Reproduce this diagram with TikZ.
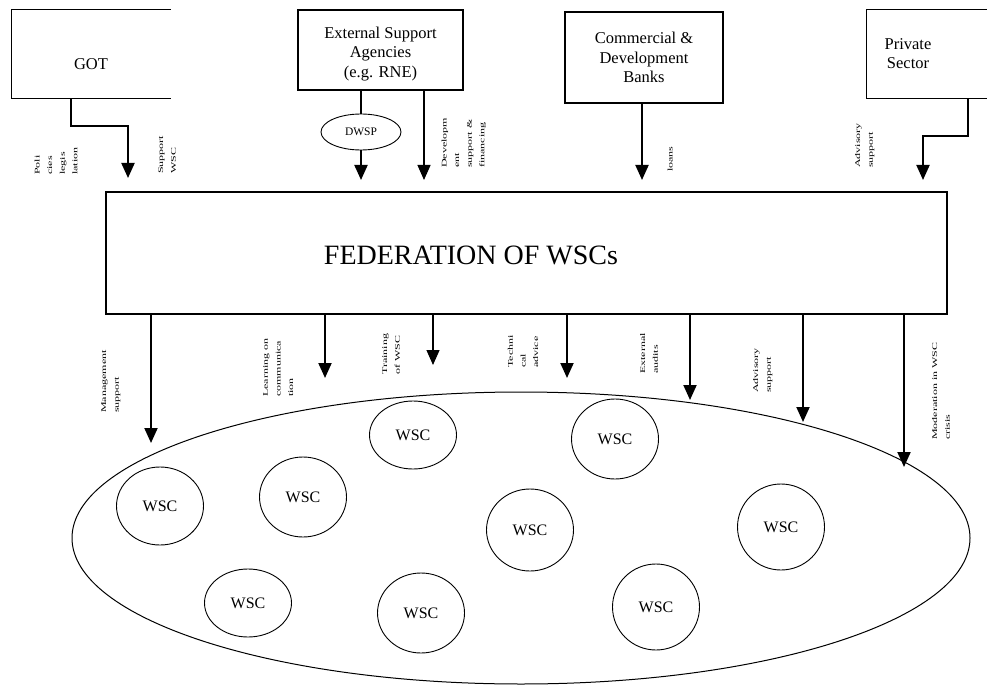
\documentclass[tikz,border=0pt]{standalone}
\usepackage{graphicx}
\usepackage{fontspec}
\setmainfont{Liberation Serif}
\usetikzlibrary{arrows.meta,shapes.geometric}
% condensed multi-line label, set upright then turned by the node
\newcommand{\sqlbl}[1]{\scalebox{1}[0.6]{\fontsize{12}{21}\selectfont\begin{tabular}{@{}l@{}}#1\end{tabular}}}
\begin{document}
\begin{tikzpicture}[x=1pt,y=-1pt,
  actor/.style={draw, line width=1.1pt, inner sep=0pt, align=center,
    font=\fontsize{16.5}{19.5}\selectfont},
  openactor/.style={actor, draw=none},
  wsc/.style={ellipse, draw, line width=0.9pt, inner sep=0pt,
    minimum width=87pt, minimum height=80pt, font=\fontsize{16}{18}\selectfont},
  conn/.style={line width=2pt, -{Triangle[width=13pt,length=15pt]}},
  thinconn/.style={conn, line width=1.3pt},
  lbl/.style={rotate=90, anchor=west, inner sep=0pt}]

\useasboundingbox (0,0) rectangle (987,687);

% --- outside actors ---
\node[openactor, minimum width=158pt, minimum height=88pt] (got) at (91,54) {};
\draw[line width=1.1pt] (got.north east) -- (got.north west) -- (got.south west) -- (got.south east);
\node[font=\fontsize{16.5}{19}\selectfont] (gottext) at (91,64) {GOT};

\node[actor, minimum width=165pt, minimum height=80pt] (esa) at (380.5,50) {};
\node[align=center, font=\fontsize{16.5}{19.5}\selectfont] (esatext) at (380.5,54)
  {External Support\\Agencies\\(e.g. RNE)};
\node[ellipse, draw, line width=0.9pt, inner sep=0pt, minimum width=80pt,
  minimum height=36pt, font=\fontsize{11.5}{13}\selectfont] (dwsp) at (361,132) {DWSP};

\node[actor, minimum width=158pt, minimum height=91pt] (bank) at (644,57.5)
  {Commercial \&\\Development\\Banks};

\node[openactor, minimum width=120pt, minimum height=88pt] (priv) at (927,54) {};
\draw[line width=1.1pt] (priv.north east) -- (priv.north west) -- (priv.south west) -- (priv.south east);
\node[align=center, font=\fontsize{16.5}{19}\selectfont] (privtext) at (908,54) {Private\\Sector};

% --- federation ---
\node[draw, line width=1.1pt, minimum width=841pt, minimum height=122pt] (fed) at (526.5,253) {};
\node[font=\fontsize{28}{32}\selectfont] (fedtext) at (471,255) {FEDERATION OF WSCs};

% --- arrow tips above the federation ---
\coordinate (tGot)  at (128,178);
\coordinate (tDw)   at (361,180);
\coordinate (tEsa)  at (424,180);
\coordinate (tBank) at (642,180);
\coordinate (tPriv) at (923,180);

\draw[conn] ([xshift=60pt]got.south west) -- ++(0,27) -| (tGot);
\draw[line width=2pt] (dwsp.north |- esa.south) -- (dwsp.north);
\draw[conn] (dwsp.south) -- (tDw);
\draw[thinconn] (tEsa |- esa.south) -- (tEsa);
\draw[conn] (tBank |- bank.south) -- (tBank);
\draw[conn] ([xshift=-20pt]priv.south east) -- ++(0,37) -| (tPriv);

\node[lbl] (lPol)  at (56,175)  {\sqlbl{Poli\\cies\\legis\\lation}};
\node[lbl] (lSup)  at (167,174) {\sqlbl{Support\\WSC}};
\node[lbl] (lDev)  at (463,168) {\sqlbl{Developm\\ent\\support \&\\financing}};
\node[lbl] (lLoan) at (670,172) {\sqlbl{loans}};
\node[lbl] (lAdv1) at (864,168) {\sqlbl{Advisory\\support}};

% --- the WSC pool ---
\node[ellipse, draw, line width=1pt, inner sep=0pt, minimum width=898pt,
  minimum height=292pt] (pool) at (521,538) {};

\node[wsc, minimum height=78pt] (w1) at (160,506) {WSC};
\node[wsc, minimum height=80pt] (w2) at (303,497) {WSC};
\node[wsc, minimum height=68pt] (w3) at (413,435) {WSC};
\node[wsc, minimum height=80pt] (w4) at (615,439) {WSC};
\node[wsc, minimum height=82pt] (w5) at (530,530) {WSC};
\node[wsc, minimum height=86pt] (w6) at (781,527) {WSC};
\node[wsc, minimum height=68pt] (w7) at (248,603) {WSC};
\node[wsc, minimum height=80pt] (w8) at (421,613) {WSC};
\node[wsc, minimum height=86pt] (w9) at (656,607) {WSC};

% --- support flowing down to the WSCs ---
\coordinate (tMan)  at (151,443);
\coordinate (tLrn)  at (325,378);
\coordinate (tTrn)  at (433,365);
\coordinate (tTec)  at (567,378);
\coordinate (tAud)  at (690,400);
\coordinate (tAdv)  at (803,422);
\coordinate (tMod)  at (904,467);

\draw[conn] (tMan |- fed.south) -- (tMan);
\draw[conn] (tLrn |- fed.south) -- (tLrn);
\draw[thinconn] (tTrn |- fed.south) -- (tTrn);
\draw[conn] (tTec |- fed.south) -- (tTec);
\draw[conn] (tAud |- fed.south) -- (tAud);
\draw[conn] (tAdv |- fed.south) -- (tAdv);
\draw[conn] (tMod |- fed.south) -- (tMod);

\node[lbl] (lMan) at (110,413) {\sqlbl{Management\\support}};
\node[lbl] (lLrn) at (278,397) {\sqlbl{Learning on\\communica\\tion}};
\node[lbl] (lTrn) at (391,375) {\sqlbl{Training\\of WSC}};
\node[lbl] (lTec) at (523,368) {\sqlbl{Techni\\cal\\advice}};
\node[lbl] (lAud) at (649,374) {\sqlbl{External\\audits}};
\node[lbl] (lAdv) at (762,393) {\sqlbl{Advisory\\support}};
\node[lbl] (lMod) at (941,440) {\sqlbl{Moderation in WSC\\crisis}};
\end{tikzpicture}
\end{document}
